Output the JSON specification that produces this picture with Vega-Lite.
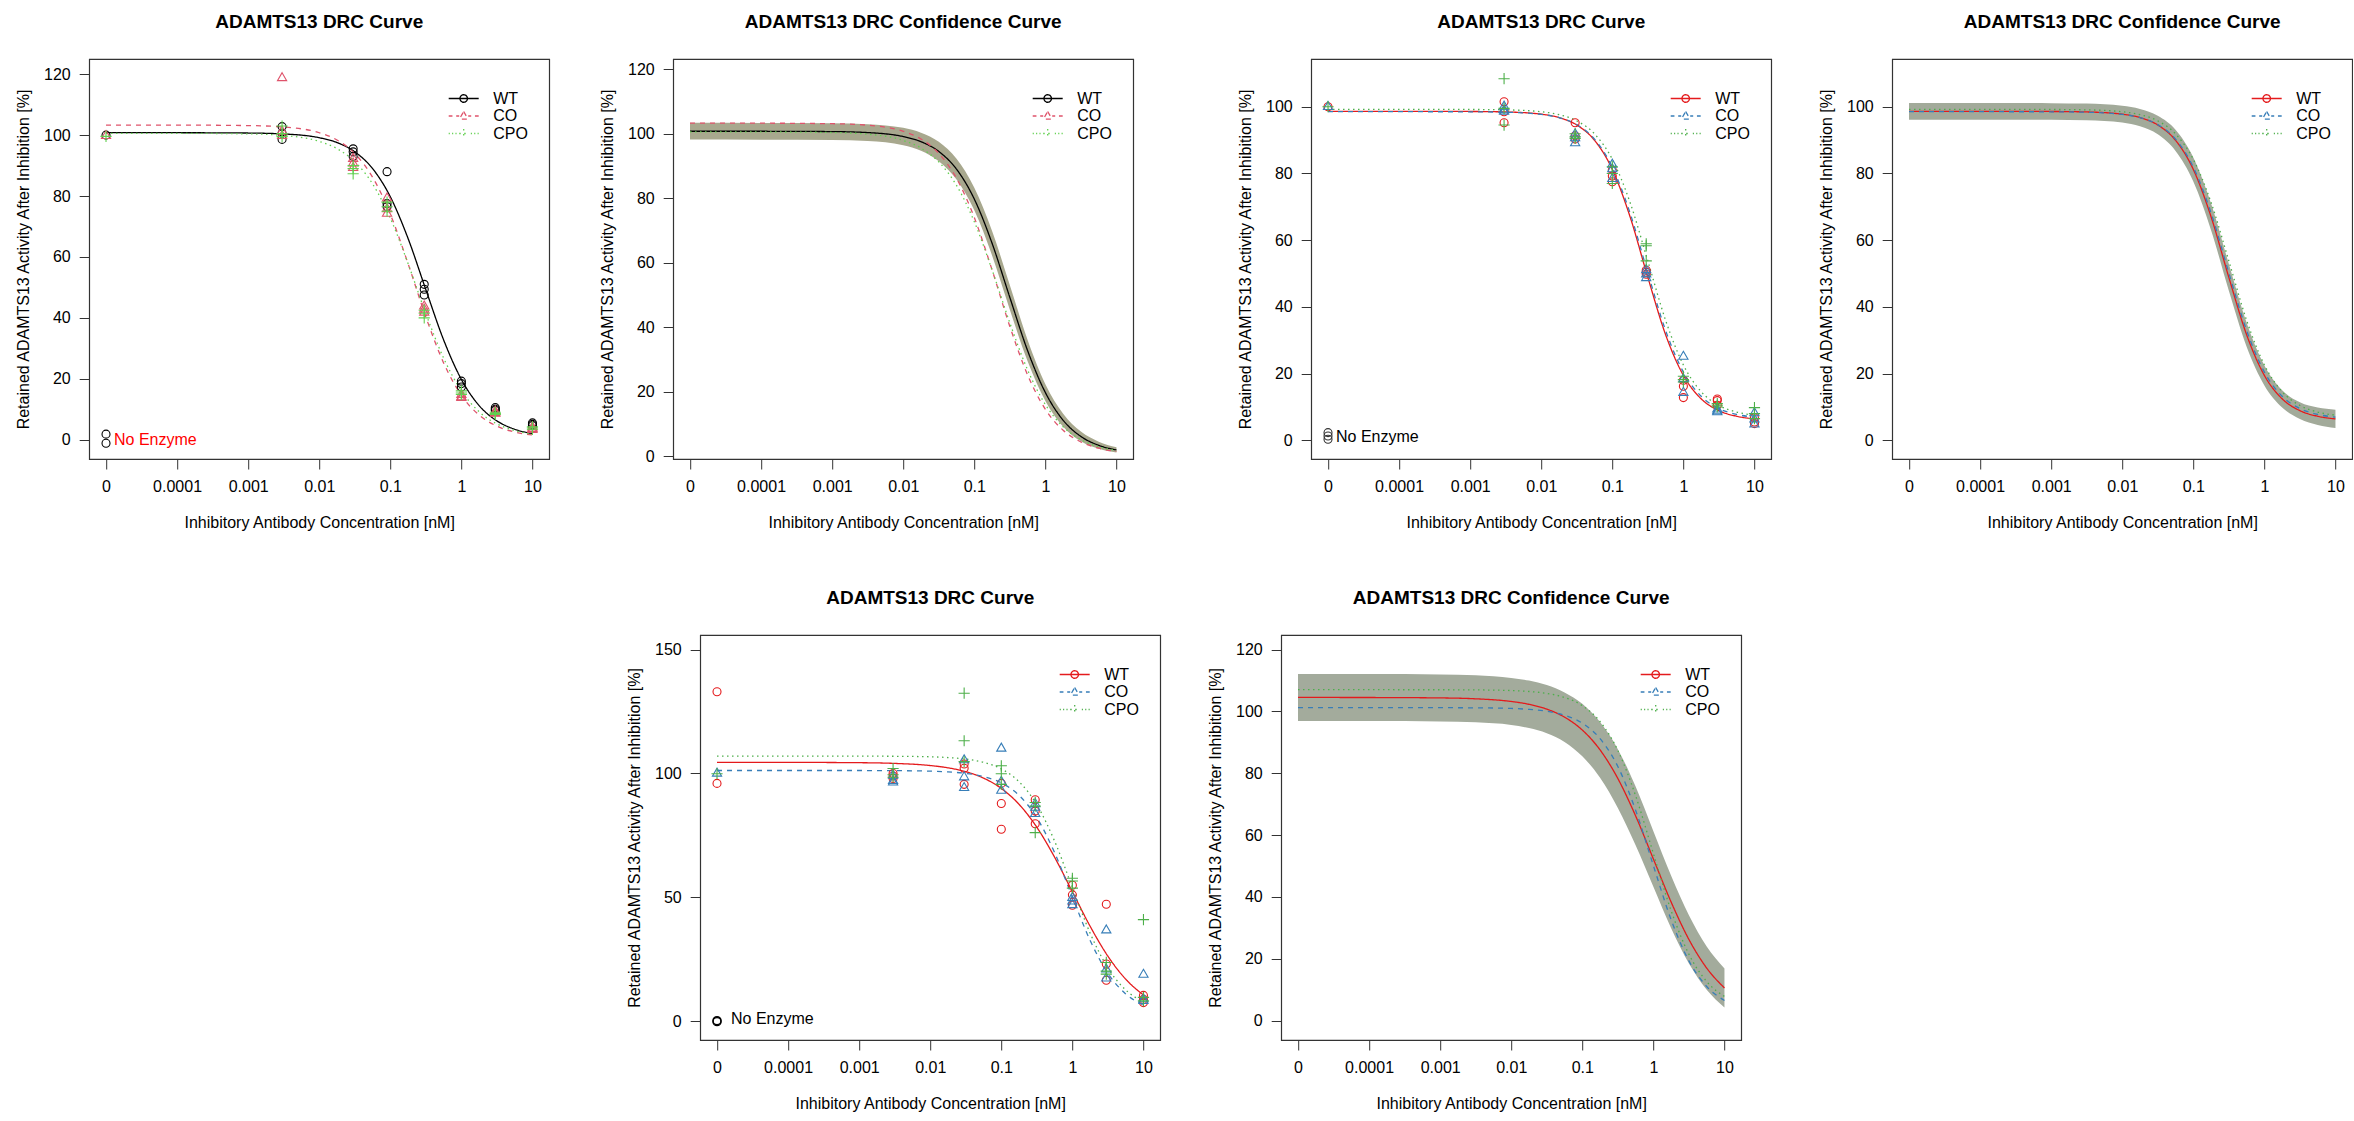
{
  "$schema": "https://vega.github.io/schema/vega-lite/v6.json",
  "background": "white",
  "padding": {"left": 14, "top": 12, "right": 0, "bottom": 0},
  "config": {
    "font": "Liberation Sans",
    "view": {"stroke": "#333", "strokeWidth": 1.2},
    "axis": {"grid": false, "domain": false, "tickColor": "#333", "tickSize": 10, "tickWidth": 1, "labelFont": "Liberation Sans", "labelFontSize": 16, "labelColor": "#000", "labelPadding": 9, "titleFont": "Liberation Sans", "titleFontSize": 16, "titleFontWeight": "normal", "titleColor": "#000", "labelOverlap": false, "labelFlush": false},
    "axisY": {"labelAngle": 0, "titlePadding": 12},
    "axisX": {"titlePadding": 20},
    "title": {"font": "Liberation Sans", "fontSize": 19, "fontWeight": "bold", "color": "#000", "offset": 27, "anchor": "middle"},
    "point": {"filled": false, "size": 64, "strokeWidth": 1.1, "opacity": 1},
    "legend": {"orient": "none", "legendX": 366, "legendY": 31, "title": null, "padding": 0, "symbolSize": 225, "symbolStrokeWidth": 1.3, "labelOffset": 21, "rowPadding": 0.5, "labelFont": "Liberation Sans", "labelFontSize": 16, "labelColor": "#000"}
  },
  "datasets": {
    "fit_a": [
      {"group": "WT", "dose": 0.00001, "activity": 100.8}, {"group": "WT", "dose": 0.0001, "activity": 100.79}, {"group": "WT", "dose": 0.001, "activity": 100.69}, {"group": "WT", "dose": 0.003162, "activity": 100.38}, {"group": "WT", "dose": 0.01, "activity": 99.15}, {"group": "WT", "dose": 0.01778, "activity": 97.56}, {"group": "WT", "dose": 0.03162, "activity": 94.53}, {"group": "WT", "dose": 0.05623, "activity": 89.03}, {"group": "WT", "dose": 0.1, "activity": 79.76}, {"group": "WT", "dose": 0.1778, "activity": 66.06}, {"group": "WT", "dose": 0.3162, "activity": 49.26}, {"group": "WT", "dose": 0.5623, "activity": 32.76}, {"group": "WT", "dose": 1, "activity": 19.76}, {"group": "WT", "dose": 1.778, "activity": 11.18}, {"group": "WT", "dose": 3.162, "activity": 6.15}, {"group": "WT", "dose": 5.623, "activity": 3.41}, {"group": "WT", "dose": 10, "activity": 1.98},
      {"group": "CO", "dose": 0.00001, "activity": 103.3}, {"group": "CO", "dose": 0.0001, "activity": 103.29}, {"group": "CO", "dose": 0.001, "activity": 103.14}, {"group": "CO", "dose": 0.003162, "activity": 102.66}, {"group": "CO", "dose": 0.01, "activity": 100.78}, {"group": "CO", "dose": 0.01778, "activity": 98.4}, {"group": "CO", "dose": 0.03162, "activity": 93.95}, {"group": "CO", "dose": 0.05623, "activity": 86.2}, {"group": "CO", "dose": 0.1, "activity": 74.03}, {"group": "CO", "dose": 0.1778, "activity": 57.8}, {"group": "CO", "dose": 0.3162, "activity": 40.27}, {"group": "CO", "dose": 0.5623, "activity": 25.2}, {"group": "CO", "dose": 1, "activity": 14.56}, {"group": "CO", "dose": 1.778, "activity": 8.06}, {"group": "CO", "dose": 3.162, "activity": 4.44}, {"group": "CO", "dose": 5.623, "activity": 2.51}, {"group": "CO", "dose": 10, "activity": 1.52},
      {"group": "CPO", "dose": 0.00001, "activity": 100.6}, {"group": "CPO", "dose": 0.0001, "activity": 100.59}, {"group": "CPO", "dose": 0.001, "activity": 100.41}, {"group": "CPO", "dose": 0.003162, "activity": 99.88}, {"group": "CPO", "dose": 0.01, "activity": 97.94}, {"group": "CPO", "dose": 0.01778, "activity": 95.57}, {"group": "CPO", "dose": 0.03162, "activity": 91.29}, {"group": "CPO", "dose": 0.05623, "activity": 84.0}, {"group": "CPO", "dose": 0.1, "activity": 72.75}, {"group": "CPO", "dose": 0.1778, "activity": 57.8}, {"group": "CPO", "dose": 0.3162, "activity": 41.37}, {"group": "CPO", "dose": 0.5623, "activity": 26.78}, {"group": "CPO", "dose": 1, "activity": 16.03}, {"group": "CPO", "dose": 1.778, "activity": 9.16}, {"group": "CPO", "dose": 3.162, "activity": 5.16}, {"group": "CPO", "dose": 5.623, "activity": 2.96}, {"group": "CPO", "dose": 10, "activity": 1.79}
    ],
    "band_a": [
      {"dose": 0.00001, "lower": 98.2, "upper": 103.4}, {"dose": 0.0001, "lower": 98.19, "upper": 103.39}, {"dose": 0.001, "lower": 98.09, "upper": 103.29}, {"dose": 0.003162, "lower": 97.78, "upper": 102.98}, {"dose": 0.01, "lower": 96.45, "upper": 101.85}, {"dose": 0.01778, "lower": 94.76, "upper": 100.36}, {"dose": 0.03162, "lower": 91.53, "upper": 97.53}, {"dose": 0.05623, "lower": 85.83, "upper": 92.23}, {"dose": 0.1, "lower": 76.26, "upper": 83.26}, {"dose": 0.1778, "lower": 62.26, "upper": 69.86}, {"dose": 0.3162, "lower": 45.46, "upper": 53.06}, {"dose": 0.5623, "lower": 29.46, "upper": 36.06}, {"dose": 1, "lower": 17.16, "upper": 22.36}, {"dose": 1.778, "lower": 9.18, "upper": 13.18}, {"dose": 3.162, "lower": 4.65, "upper": 7.65}, {"dose": 5.623, "lower": 2.31, "upper": 4.51}, {"dose": 10, "lower": 1.18, "upper": 2.78}
    ],
    "obs_a": [
      {"group": "WT", "dose": 0.00001, "activity": 100}, {"group": "CO", "dose": 0.00001, "activity": 100}, {"group": "CPO", "dose": 0.00001, "activity": 99.6},
      {"group": "WT", "dose": 0.003, "activity": 102.8}, {"group": "WT", "dose": 0.003, "activity": 100.6}, {"group": "WT", "dose": 0.003, "activity": 98.6},
      {"group": "CO", "dose": 0.003, "activity": 119}, {"group": "CO", "dose": 0.003, "activity": 101.5}, {"group": "CO", "dose": 0.003, "activity": 100},
      {"group": "CPO", "dose": 0.003, "activity": 103}, {"group": "CPO", "dose": 0.003, "activity": 100.5}, {"group": "CPO", "dose": 0.003, "activity": 99.5},
      {"group": "WT", "dose": 0.03, "activity": 95.5}, {"group": "WT", "dose": 0.03, "activity": 94.5}, {"group": "WT", "dose": 0.03, "activity": 93},
      {"group": "CO", "dose": 0.03, "activity": 92.5}, {"group": "CO", "dose": 0.03, "activity": 91}, {"group": "CO", "dose": 0.03, "activity": 89.5},
      {"group": "CPO", "dose": 0.03, "activity": 90}, {"group": "CPO", "dose": 0.03, "activity": 89}, {"group": "CPO", "dose": 0.03, "activity": 87.3},
      {"group": "WT", "dose": 0.09, "activity": 88}, {"group": "WT", "dose": 0.09, "activity": 77.5}, {"group": "WT", "dose": 0.09, "activity": 76.5},
      {"group": "CO", "dose": 0.09, "activity": 79.5}, {"group": "CO", "dose": 0.09, "activity": 76}, {"group": "CO", "dose": 0.09, "activity": 74.5},
      {"group": "CPO", "dose": 0.09, "activity": 78}, {"group": "CPO", "dose": 0.09, "activity": 76.5}, {"group": "CPO", "dose": 0.09, "activity": 75},
      {"group": "WT", "dose": 0.3, "activity": 51}, {"group": "WT", "dose": 0.3, "activity": 49.4}, {"group": "WT", "dose": 0.3, "activity": 47.5},
      {"group": "CO", "dose": 0.3, "activity": 44}, {"group": "CO", "dose": 0.3, "activity": 43}, {"group": "CO", "dose": 0.3, "activity": 42},
      {"group": "CPO", "dose": 0.3, "activity": 42.5}, {"group": "CPO", "dose": 0.3, "activity": 41.5}, {"group": "CPO", "dose": 0.3, "activity": 40},
      {"group": "WT", "dose": 1, "activity": 19.2}, {"group": "WT", "dose": 1, "activity": 18.4}, {"group": "WT", "dose": 1, "activity": 17.3},
      {"group": "CO", "dose": 1, "activity": 15}, {"group": "CO", "dose": 1, "activity": 14.2}, {"group": "CO", "dose": 1, "activity": 14},
      {"group": "CPO", "dose": 1, "activity": 16}, {"group": "CPO", "dose": 1, "activity": 15.3}, {"group": "CPO", "dose": 1, "activity": 14.8},
      {"group": "WT", "dose": 3, "activity": 10.5}, {"group": "WT", "dose": 3, "activity": 10}, {"group": "WT", "dose": 3, "activity": 9.6},
      {"group": "CO", "dose": 3, "activity": 9.5}, {"group": "CO", "dose": 3, "activity": 9}, {"group": "CO", "dose": 3, "activity": 8.8},
      {"group": "CPO", "dose": 3, "activity": 9}, {"group": "CPO", "dose": 3, "activity": 8.6}, {"group": "CPO", "dose": 3, "activity": 8.3},
      {"group": "WT", "dose": 10, "activity": 5.5}, {"group": "WT", "dose": 10, "activity": 5}, {"group": "WT", "dose": 10, "activity": 4.6},
      {"group": "CO", "dose": 10, "activity": 4.3}, {"group": "CO", "dose": 10, "activity": 3.8}, {"group": "CO", "dose": 10, "activity": 3.5},
      {"group": "CPO", "dose": 10, "activity": 4.2}, {"group": "CPO", "dose": 10, "activity": 3.8}, {"group": "CPO", "dose": 10, "activity": 3.4}
    ],
    "blank_a": [{"dose": 0.00001, "activity": 1.8}, {"dose": 0.00001, "activity": -1.2}],
    "fit_b": [
      {"group": "WT", "dose": 0.00001, "activity": 98.6}, {"group": "WT", "dose": 0.0001, "activity": 98.6}, {"group": "WT", "dose": 0.001, "activity": 98.57}, {"group": "WT", "dose": 0.003162, "activity": 98.43}, {"group": "WT", "dose": 0.01, "activity": 97.76}, {"group": "WT", "dose": 0.01778, "activity": 96.73}, {"group": "WT", "dose": 0.03162, "activity": 94.52}, {"group": "WT", "dose": 0.05623, "activity": 89.93}, {"group": "WT", "dose": 0.1, "activity": 81.2}, {"group": "WT", "dose": 0.1778, "activity": 67.0}, {"group": "WT", "dose": 0.3162, "activity": 48.84}, {"group": "WT", "dose": 0.5623, "activity": 31.66}, {"group": "WT", "dose": 1, "activity": 19.46}, {"group": "WT", "dose": 1.778, "activity": 12.44}, {"group": "WT", "dose": 3.162, "activity": 8.89}, {"group": "WT", "dose": 5.623, "activity": 7.21}, {"group": "WT", "dose": 10, "activity": 6.43},
      {"group": "CO", "dose": 0.00001, "activity": 98.5}, {"group": "CO", "dose": 0.0001, "activity": 98.5}, {"group": "CO", "dose": 0.001, "activity": 98.47}, {"group": "CO", "dose": 0.003162, "activity": 98.34}, {"group": "CO", "dose": 0.01, "activity": 97.7}, {"group": "CO", "dose": 0.01778, "activity": 96.73}, {"group": "CO", "dose": 0.03162, "activity": 94.63}, {"group": "CO", "dose": 0.05623, "activity": 90.26}, {"group": "CO", "dose": 0.1, "activity": 81.89}, {"group": "CO", "dose": 0.1778, "activity": 68.1}, {"group": "CO", "dose": 0.3162, "activity": 50.16}, {"group": "CO", "dose": 0.5623, "activity": 32.9}, {"group": "CO", "dose": 1, "activity": 20.44}, {"group": "CO", "dose": 1.778, "activity": 13.2}, {"group": "CO", "dose": 3.162, "activity": 9.52}, {"group": "CO", "dose": 5.623, "activity": 7.76}, {"group": "CO", "dose": 10, "activity": 6.96},
      {"group": "CPO", "dose": 0.00001, "activity": 99.2}, {"group": "CPO", "dose": 0.0001, "activity": 99.2}, {"group": "CPO", "dose": 0.001, "activity": 99.17}, {"group": "CPO", "dose": 0.003162, "activity": 99.06}, {"group": "CPO", "dose": 0.01, "activity": 98.49}, {"group": "CPO", "dose": 0.01778, "activity": 97.64}, {"group": "CPO", "dose": 0.03162, "activity": 95.77}, {"group": "CPO", "dose": 0.05623, "activity": 91.86}, {"group": "CPO", "dose": 0.1, "activity": 84.24}, {"group": "CPO", "dose": 0.1778, "activity": 71.3}, {"group": "CPO", "dose": 0.3162, "activity": 53.74}, {"group": "CPO", "dose": 0.5623, "activity": 35.97}, {"group": "CPO", "dose": 1, "activity": 22.59}, {"group": "CPO", "dose": 1.778, "activity": 14.59}, {"group": "CPO", "dose": 3.162, "activity": 10.45}, {"group": "CPO", "dose": 5.623, "activity": 8.47}, {"group": "CPO", "dose": 10, "activity": 7.55}
    ],
    "band_b": [
      {"dose": 0.00001, "lower": 96.1, "upper": 101.1}, {"dose": 0.0001, "lower": 96.1, "upper": 101.1}, {"dose": 0.001, "lower": 96.07, "upper": 101.07}, {"dose": 0.003162, "lower": 95.93, "upper": 100.93}, {"dose": 0.01, "lower": 95.26, "upper": 100.26}, {"dose": 0.01778, "lower": 94.13, "upper": 99.33}, {"dose": 0.03162, "lower": 91.72, "upper": 97.32}, {"dose": 0.05623, "lower": 86.73, "upper": 93.13}, {"dose": 0.1, "lower": 77.6, "upper": 84.8}, {"dose": 0.1778, "lower": 63.0, "upper": 71.0}, {"dose": 0.3162, "lower": 44.84, "upper": 52.84}, {"dose": 0.5623, "lower": 28.06, "upper": 35.26}, {"dose": 1, "lower": 16.46, "upper": 22.46}, {"dose": 1.778, "lower": 9.84, "upper": 15.04}, {"dose": 3.162, "lower": 6.39, "upper": 11.39}, {"dose": 5.623, "lower": 4.61, "upper": 9.81}, {"dose": 10, "lower": 3.68, "upper": 9.18}
    ],
    "obs_b": [
      {"group": "WT", "dose": 0.00001, "activity": 100}, {"group": "CO", "dose": 0.00001, "activity": 100.2}, {"group": "CPO", "dose": 0.00001, "activity": 100},
      {"group": "WT", "dose": 0.003, "activity": 101.5}, {"group": "WT", "dose": 0.003, "activity": 98.5}, {"group": "WT", "dose": 0.003, "activity": 95.2},
      {"group": "CO", "dose": 0.003, "activity": 100.3}, {"group": "CO", "dose": 0.003, "activity": 99.2}, {"group": "CO", "dose": 0.003, "activity": 98.8},
      {"group": "CPO", "dose": 0.003, "activity": 108.4}, {"group": "CPO", "dose": 0.003, "activity": 99.5}, {"group": "CPO", "dose": 0.003, "activity": 94.5},
      {"group": "WT", "dose": 0.03, "activity": 95.2}, {"group": "WT", "dose": 0.03, "activity": 91.3}, {"group": "WT", "dose": 0.03, "activity": 90.3},
      {"group": "CO", "dose": 0.03, "activity": 92}, {"group": "CO", "dose": 0.03, "activity": 90.8}, {"group": "CO", "dose": 0.03, "activity": 89.3},
      {"group": "CPO", "dose": 0.03, "activity": 91.9}, {"group": "CPO", "dose": 0.03, "activity": 91}, {"group": "CPO", "dose": 0.03, "activity": 90.5},
      {"group": "WT", "dose": 0.1, "activity": 81}, {"group": "WT", "dose": 0.1, "activity": 79.2}, {"group": "WT", "dose": 0.1, "activity": 77.5},
      {"group": "CO", "dose": 0.1, "activity": 82.9}, {"group": "CO", "dose": 0.1, "activity": 81.5}, {"group": "CO", "dose": 0.1, "activity": 78.6},
      {"group": "CPO", "dose": 0.1, "activity": 82}, {"group": "CPO", "dose": 0.1, "activity": 80}, {"group": "CPO", "dose": 0.1, "activity": 77},
      {"group": "WT", "dose": 0.3, "activity": 51}, {"group": "WT", "dose": 0.3, "activity": 50.4}, {"group": "WT", "dose": 0.3, "activity": 49.8},
      {"group": "CO", "dose": 0.3, "activity": 51.3}, {"group": "CO", "dose": 0.3, "activity": 50}, {"group": "CO", "dose": 0.3, "activity": 48.9},
      {"group": "CPO", "dose": 0.3, "activity": 58.9}, {"group": "CPO", "dose": 0.3, "activity": 58.3}, {"group": "CPO", "dose": 0.3, "activity": 53.8},
      {"group": "WT", "dose": 1, "activity": 18}, {"group": "WT", "dose": 1, "activity": 16.2}, {"group": "WT", "dose": 1, "activity": 12.8},
      {"group": "CO", "dose": 1, "activity": 25.3}, {"group": "CO", "dose": 1, "activity": 18.6}, {"group": "CO", "dose": 1, "activity": 14.5},
      {"group": "CPO", "dose": 1, "activity": 19.2}, {"group": "CPO", "dose": 1, "activity": 18.2}, {"group": "CPO", "dose": 1, "activity": 17.5},
      {"group": "WT", "dose": 3, "activity": 12.4}, {"group": "WT", "dose": 3, "activity": 11.9}, {"group": "WT", "dose": 3, "activity": 10.5},
      {"group": "CO", "dose": 3, "activity": 9.5}, {"group": "CO", "dose": 3, "activity": 9}, {"group": "CO", "dose": 3, "activity": 8.7},
      {"group": "CPO", "dose": 3, "activity": 11}, {"group": "CPO", "dose": 3, "activity": 10.5}, {"group": "CPO", "dose": 3, "activity": 10},
      {"group": "WT", "dose": 10, "activity": 6.8}, {"group": "WT", "dose": 10, "activity": 5.5}, {"group": "WT", "dose": 10, "activity": 5},
      {"group": "CO", "dose": 10, "activity": 8.4}, {"group": "CO", "dose": 10, "activity": 6.5}, {"group": "CO", "dose": 10, "activity": 5},
      {"group": "CPO", "dose": 10, "activity": 9.8}, {"group": "CPO", "dose": 10, "activity": 8}, {"group": "CPO", "dose": 10, "activity": 6.5}
    ],
    "blank_b": [{"dose": 0.00001, "activity": 0.3}, {"dose": 0.00001, "activity": 1.3}, {"dose": 0.00001, "activity": 2.3}],
    "fit_c": [
      {"group": "WT", "dose": 0.00001, "activity": 104.5}, {"group": "WT", "dose": 0.0001, "activity": 104.48}, {"group": "WT", "dose": 0.001, "activity": 104.35}, {"group": "WT", "dose": 0.003162, "activity": 104.06}, {"group": "WT", "dose": 0.01, "activity": 103.2}, {"group": "WT", "dose": 0.01778, "activity": 102.28}, {"group": "WT", "dose": 0.03162, "activity": 100.72}, {"group": "WT", "dose": 0.05623, "activity": 98.13}, {"group": "WT", "dose": 0.1, "activity": 93.96}, {"group": "WT", "dose": 0.1778, "activity": 87.53}, {"group": "WT", "dose": 0.3162, "activity": 78.28}, {"group": "WT", "dose": 0.5623, "activity": 66.19}, {"group": "WT", "dose": 1, "activity": 52.25}, {"group": "WT", "dose": 1.778, "activity": 38.31}, {"group": "WT", "dose": 3.162, "activity": 26.22}, {"group": "WT", "dose": 5.623, "activity": 16.97}, {"group": "WT", "dose": 10, "activity": 10.54},
      {"group": "CO", "dose": 0.00001, "activity": 101.2}, {"group": "CO", "dose": 0.0001, "activity": 101.2}, {"group": "CO", "dose": 0.001, "activity": 101.19}, {"group": "CO", "dose": 0.003162, "activity": 101.14}, {"group": "CO", "dose": 0.01, "activity": 100.94}, {"group": "CO", "dose": 0.01778, "activity": 100.64}, {"group": "CO", "dose": 0.03162, "activity": 100.03}, {"group": "CO", "dose": 0.05623, "activity": 98.76}, {"group": "CO", "dose": 0.1, "activity": 96.19}, {"group": "CO", "dose": 0.1778, "activity": 91.17}, {"group": "CO", "dose": 0.3162, "activity": 82.15}, {"group": "CO", "dose": 0.5623, "activity": 68.03}, {"group": "CO", "dose": 1, "activity": 50.11}, {"group": "CO", "dose": 1.778, "activity": 32.58}, {"group": "CO", "dose": 3.162, "activity": 19.28}, {"group": "CO", "dose": 5.623, "activity": 11.0}, {"group": "CO", "dose": 10, "activity": 6.47},
      {"group": "CPO", "dose": 0.00001, "activity": 107}, {"group": "CPO", "dose": 0.0001, "activity": 107}, {"group": "CPO", "dose": 0.001, "activity": 106.99}, {"group": "CPO", "dose": 0.003162, "activity": 106.94}, {"group": "CPO", "dose": 0.01, "activity": 106.73}, {"group": "CPO", "dose": 0.01778, "activity": 106.43}, {"group": "CPO", "dose": 0.03162, "activity": 105.8}, {"group": "CPO", "dose": 0.05623, "activity": 104.5}, {"group": "CPO", "dose": 0.1, "activity": 101.85}, {"group": "CPO", "dose": 0.1778, "activity": 96.68}, {"group": "CPO", "dose": 0.3162, "activity": 87.36}, {"group": "CPO", "dose": 0.5623, "activity": 72.7}, {"group": "CPO", "dose": 1, "activity": 53.99}, {"group": "CPO", "dose": 1.778, "activity": 35.52}, {"group": "CPO", "dose": 3.162, "activity": 21.43}, {"group": "CPO", "dose": 5.623, "activity": 12.62}, {"group": "CPO", "dose": 10, "activity": 7.78}
    ],
    "band_c": [
      {"dose": 0.00001, "lower": 96.9, "upper": 112.1}, {"dose": 0.0001, "lower": 96.88, "upper": 112.08}, {"dose": 0.001, "lower": 96.75, "upper": 111.95}, {"dose": 0.003162, "lower": 96.46, "upper": 111.66}, {"dose": 0.01, "lower": 95.6, "upper": 110.8}, {"dose": 0.01778, "lower": 94.58, "upper": 109.98}, {"dose": 0.03162, "lower": 92.92, "upper": 108.52}, {"dose": 0.05623, "lower": 90.13, "upper": 106.13}, {"dose": 0.1, "lower": 85.46, "upper": 102.46}, {"dose": 0.1778, "lower": 78.53, "upper": 96.53}, {"dose": 0.3162, "lower": 68.78, "upper": 87.78}, {"dose": 0.5623, "lower": 56.69, "upper": 75.69}, {"dose": 1, "lower": 43.25, "upper": 61.25}, {"dose": 1.778, "lower": 29.81, "upper": 46.81}, {"dose": 3.162, "lower": 18.42, "upper": 34.02}, {"dose": 5.623, "lower": 9.97, "upper": 23.97}, {"dose": 10, "lower": 4.24, "upper": 16.84}
    ],
    "obs_c": [
      {"group": "WT", "dose": 0.00001, "activity": 133}, {"group": "WT", "dose": 0.00001, "activity": 96}, {"group": "CO", "dose": 0.00001, "activity": 100.3}, {"group": "CPO", "dose": 0.00001, "activity": 99.9},
      {"group": "WT", "dose": 0.003, "activity": 100}, {"group": "WT", "dose": 0.003, "activity": 99}, {"group": "WT", "dose": 0.003, "activity": 98},
      {"group": "CO", "dose": 0.003, "activity": 99.5}, {"group": "CO", "dose": 0.003, "activity": 97.3}, {"group": "CO", "dose": 0.003, "activity": 96.7},
      {"group": "CPO", "dose": 0.003, "activity": 102}, {"group": "CPO", "dose": 0.003, "activity": 99.5}, {"group": "CPO", "dose": 0.003, "activity": 98.5},
      {"group": "WT", "dose": 0.03, "activity": 103.8}, {"group": "WT", "dose": 0.03, "activity": 102.1}, {"group": "WT", "dose": 0.03, "activity": 95.6},
      {"group": "CO", "dose": 0.03, "activity": 105.7}, {"group": "CO", "dose": 0.03, "activity": 98.8}, {"group": "CO", "dose": 0.03, "activity": 94.5},
      {"group": "CPO", "dose": 0.03, "activity": 132.4}, {"group": "CPO", "dose": 0.03, "activity": 113.2}, {"group": "CPO", "dose": 0.03, "activity": 104.8},
      {"group": "WT", "dose": 0.1, "activity": 96}, {"group": "WT", "dose": 0.1, "activity": 87.9}, {"group": "WT", "dose": 0.1, "activity": 77.5},
      {"group": "CO", "dose": 0.1, "activity": 110.4}, {"group": "CO", "dose": 0.1, "activity": 97}, {"group": "CO", "dose": 0.1, "activity": 93.4},
      {"group": "CPO", "dose": 0.1, "activity": 103.1}, {"group": "CPO", "dose": 0.1, "activity": 99.9}, {"group": "CPO", "dose": 0.1, "activity": 95.6},
      {"group": "WT", "dose": 0.3, "activity": 89.4}, {"group": "WT", "dose": 0.3, "activity": 84.8}, {"group": "WT", "dose": 0.3, "activity": 79.7},
      {"group": "CO", "dose": 0.3, "activity": 88}, {"group": "CO", "dose": 0.3, "activity": 86.5}, {"group": "CO", "dose": 0.3, "activity": 84},
      {"group": "CPO", "dose": 0.3, "activity": 88.3}, {"group": "CPO", "dose": 0.3, "activity": 86.8}, {"group": "CPO", "dose": 0.3, "activity": 76.1},
      {"group": "WT", "dose": 1, "activity": 54.9}, {"group": "WT", "dose": 1, "activity": 51}, {"group": "WT", "dose": 1, "activity": 46.8},
      {"group": "CO", "dose": 1, "activity": 50.1}, {"group": "CO", "dose": 1, "activity": 48.7}, {"group": "CO", "dose": 1, "activity": 47.2},
      {"group": "CPO", "dose": 1, "activity": 57.7}, {"group": "CPO", "dose": 1, "activity": 56.6}, {"group": "CPO", "dose": 1, "activity": 53.7},
      {"group": "WT", "dose": 3, "activity": 47.2}, {"group": "WT", "dose": 3, "activity": 23.1}, {"group": "WT", "dose": 3, "activity": 16.5},
      {"group": "CO", "dose": 3, "activity": 37}, {"group": "CO", "dose": 3, "activity": 21.2}, {"group": "CO", "dose": 3, "activity": 17.6},
      {"group": "CPO", "dose": 3, "activity": 23.7}, {"group": "CPO", "dose": 3, "activity": 20.2}, {"group": "CPO", "dose": 3, "activity": 19},
      {"group": "WT", "dose": 10, "activity": 10.4}, {"group": "WT", "dose": 10, "activity": 8.8}, {"group": "WT", "dose": 10, "activity": 7.5},
      {"group": "CO", "dose": 10, "activity": 19.1}, {"group": "CO", "dose": 10, "activity": 9.2}, {"group": "CO", "dose": 10, "activity": 8.5},
      {"group": "CPO", "dose": 10, "activity": 41}, {"group": "CPO", "dose": 10, "activity": 9.6}, {"group": "CPO", "dose": 10, "activity": 8.2}
    ],
    "blank_c": [{"dose": 0.00001, "activity": 0.2}, {"dose": 0.00001, "activity": -0.2}]
  },
  "vconcat": [
    {
      "hconcat": [
        {
          "hconcat": [
            {
              "width": 460, "height": 400,
              "title": {"text": "ADAMTS13 DRC Curve"},
              "encoding": {
                "x": {"field": "dose", "type": "quantitative", "scale": {"type": "log", "domain": [0.0000058, 17.2], "nice": false}, "axis": {"values": [0.00001, 0.0001, 0.001, 0.01, 0.1, 1, 10], "labelExpr": "datum.value < 0.00005 ? '0' : datum.value < 0.0005 ? '0.0001' : datum.value < 0.005 ? '0.001' : datum.value < 0.05 ? '0.01' : datum.value < 0.5 ? '0.1' : datum.value < 5 ? '1' : '10'", "title": "Inhibitory Antibody Concentration [nM]"}},
                "y": {"field": "activity", "type": "quantitative", "scale": {"domain": [-6.36, 125], "nice": false, "zero": false}, "axis": {"values": [0, 20, 40, 60, 80, 100, 120], "title": "Retained ADAMTS13 Activity After Inhibition [%]"}},
                "color": {"field": "group", "type": "nominal", "scale": {"domain": ["WT", "CO", "CPO"], "range": ["#000000", "#DF536B", "#61D04F"]}, "legend": {"encode": {"symbols": {"update": {"fill": {"value": "transparent"}, "shape": {"signal": "datum.value === 'WT' ? 'M-2,0H2M0.5,0A0.5,0.5,0,1,1,-0.5,0A0.5,0.5,0,1,1,0.5,0' : datum.value === 'CO' ? 'M-2,0H-1.5M-1,0H-0.6M0.6,0H1M1.5,0H2M0,-0.6L0.58,0.42L-0.58,0.42Z' : 'M-2,0H-1.85M-1.55,0H-1.4M-1.1,0H-0.95M-0.6,0H0.6M0,-0.6V0.6M0.95,0H1.1M1.4,0H1.55M1.85,0H2'"}}}}}}
              },
              "layer": [
                {
                  "data": {"name": "fit_a"},
                  "mark": {"type": "line", "interpolate": "monotone", "strokeWidth": 1.3},
                  "encoding": {"strokeDash": {"field": "group", "type": "nominal", "scale": {"domain": ["WT", "CO", "CPO"], "range": [[1, 0], [5, 5], [1.5, 3.5]]}, "legend": null}}
                },
                {"data": {"name": "obs_a"}, "transform": [{"filter": "datum.group === 'WT'"}], "mark": {"type": "point", "shape": "circle"}},
                {"data": {"name": "obs_a"}, "transform": [{"filter": "datum.group === 'CO'"}], "mark": {"type": "point", "shape": "M0,-1.15L1.15,0.85L-1.15,0.85Z"}},
                {"data": {"name": "obs_a"}, "transform": [{"filter": "datum.group === 'CPO'"}], "mark": {"type": "point", "shape": "M-1.4,0H1.4M0,-1.4V1.4"}},
                {
                  "data": {"name": "blank_a"},
                  "mark": {"type": "point", "shape": "circle"},
                  "encoding": {"color": {"value": "#000000"}}
                },
                {
                  "data": {"values": [{"dose": 0.00001, "activity": 0, "note": "No Enzyme"}]},
                  "mark": {"type": "text", "align": "left", "baseline": "middle", "dx": 8, "fontSize": 16},
                  "encoding": {"text": {"field": "note"}, "color": {"value": "#FF0000"}}
                }
              ]
            },
            {
              "width": 460, "height": 400,
              "title": {"text": "ADAMTS13 DRC Confidence Curve"},
              "encoding": {
                "x": {"field": "dose", "type": "quantitative", "scale": {"type": "log", "domain": [0.0000058, 17.2], "nice": false}, "axis": {"values": [0.00001, 0.0001, 0.001, 0.01, 0.1, 1, 10], "labelExpr": "datum.value < 0.00005 ? '0' : datum.value < 0.0005 ? '0.0001' : datum.value < 0.005 ? '0.001' : datum.value < 0.05 ? '0.01' : datum.value < 0.5 ? '0.1' : datum.value < 5 ? '1' : '10'", "title": "Inhibitory Antibody Concentration [nM]"}},
                "y": {"field": "activity", "type": "quantitative", "scale": {"domain": [-0.84, 123.2], "nice": false, "zero": false}, "axis": {"values": [0, 20, 40, 60, 80, 100, 120], "title": "Retained ADAMTS13 Activity After Inhibition [%]"}}
              },
              "layer": [
                {
                  "data": {"name": "band_a"},
                  "mark": {"type": "area", "color": "#A8A88E", "opacity": 1, "interpolate": "monotone"},
                  "encoding": {
                    "y": {"field": "lower", "type": "quantitative", "scale": {"domain": [-0.84, 123.2], "nice": false, "zero": false}, "axis": {"values": [0, 20, 40, 60, 80, 100, 120], "title": "Retained ADAMTS13 Activity After Inhibition [%]"}},
                    "y2": {"field": "upper"}
                  }
                },
                {
                  "data": {"name": "fit_a"},
                  "mark": {"type": "line", "interpolate": "monotone", "strokeWidth": 1.3},
                  "encoding": {
                    "color": {"field": "group", "type": "nominal", "scale": {"domain": ["WT", "CO", "CPO"], "range": ["#000000", "#DF536B", "#61D04F"]}, "legend": {"encode": {"symbols": {"update": {"fill": {"value": "transparent"}, "shape": {"signal": "datum.value === 'WT' ? 'M-2,0H2M0.5,0A0.5,0.5,0,1,1,-0.5,0A0.5,0.5,0,1,1,0.5,0' : datum.value === 'CO' ? 'M-2,0H-1.5M-1,0H-0.6M0.6,0H1M1.5,0H2M0,-0.6L0.58,0.42L-0.58,0.42Z' : 'M-2,0H-1.85M-1.55,0H-1.4M-1.1,0H-0.95M-0.6,0H0.6M0,-0.6V0.6M0.95,0H1.1M1.4,0H1.55M1.85,0H2'"}}}}}},
                    "strokeDash": {"field": "group", "type": "nominal", "scale": {"domain": ["WT", "CO", "CPO"], "range": [[1, 0], [5, 5], [1.5, 3.5]]}, "legend": null}
                  }
                }
              ]
            }
          ],
          "spacing": 48,
          "resolve": {"scale": {"x": "independent", "y": "independent", "color": "independent", "strokeDash": "independent"}, "legend": {"color": "independent"}}
        },
        {
          "hconcat": [
            {
              "width": 460, "height": 400,
              "title": {"text": "ADAMTS13 DRC Curve"},
              "encoding": {
                "x": {"field": "dose", "type": "quantitative", "scale": {"type": "log", "domain": [0.0000058, 17.2], "nice": false}, "axis": {"values": [0.00001, 0.0001, 0.001, 0.01, 0.1, 1, 10], "labelExpr": "datum.value < 0.00005 ? '0' : datum.value < 0.0005 ? '0.0001' : datum.value < 0.005 ? '0.001' : datum.value < 0.05 ? '0.01' : datum.value < 0.5 ? '0.1' : datum.value < 5 ? '1' : '10'", "title": "Inhibitory Antibody Concentration [nM]"}},
                "y": {"field": "activity", "type": "quantitative", "scale": {"domain": [-5.6, 114.3], "nice": false, "zero": false}, "axis": {"values": [0, 20, 40, 60, 80, 100], "title": "Retained ADAMTS13 Activity After Inhibition [%]"}},
                "color": {"field": "group", "type": "nominal", "scale": {"domain": ["WT", "CO", "CPO"], "range": ["#E41A1C", "#377EB8", "#4DAF4A"]}, "legend": {"encode": {"symbols": {"update": {"fill": {"value": "transparent"}, "shape": {"signal": "datum.value === 'WT' ? 'M-2,0H2M0.5,0A0.5,0.5,0,1,1,-0.5,0A0.5,0.5,0,1,1,0.5,0' : datum.value === 'CO' ? 'M-2,0H-1.5M-1,0H-0.6M0.6,0H1M1.5,0H2M0,-0.6L0.58,0.42L-0.58,0.42Z' : 'M-2,0H-1.85M-1.55,0H-1.4M-1.1,0H-0.95M-0.6,0H0.6M0,-0.6V0.6M0.95,0H1.1M1.4,0H1.55M1.85,0H2'"}}}}}}
              },
              "layer": [
                {
                  "data": {"name": "fit_b"},
                  "mark": {"type": "line", "interpolate": "monotone", "strokeWidth": 1.3},
                  "encoding": {"strokeDash": {"field": "group", "type": "nominal", "scale": {"domain": ["WT", "CO", "CPO"], "range": [[1, 0], [5, 5], [1.5, 3.5]]}, "legend": null}}
                },
                {"data": {"name": "obs_b"}, "transform": [{"filter": "datum.group === 'WT'"}], "mark": {"type": "point", "shape": "circle"}},
                {"data": {"name": "obs_b"}, "transform": [{"filter": "datum.group === 'CO'"}], "mark": {"type": "point", "shape": "M0,-1.15L1.15,0.85L-1.15,0.85Z"}},
                {"data": {"name": "obs_b"}, "transform": [{"filter": "datum.group === 'CPO'"}], "mark": {"type": "point", "shape": "M-1.4,0H1.4M0,-1.4V1.4"}},
                {
                  "data": {"name": "blank_b"},
                  "mark": {"type": "point", "shape": "circle"},
                  "encoding": {"color": {"value": "#333333"}}
                },
                {
                  "data": {"values": [{"dose": 0.00001, "activity": 0.9, "note": "No Enzyme"}]},
                  "mark": {"type": "text", "align": "left", "baseline": "middle", "dx": 8, "fontSize": 16},
                  "encoding": {"text": {"field": "note"}, "color": {"value": "#000000"}}
                }
              ]
            },
            {
              "width": 460, "height": 400,
              "title": {"text": "ADAMTS13 DRC Confidence Curve"},
              "encoding": {
                "x": {"field": "dose", "type": "quantitative", "scale": {"type": "log", "domain": [0.0000058, 17.2], "nice": false}, "axis": {"values": [0.00001, 0.0001, 0.001, 0.01, 0.1, 1, 10], "labelExpr": "datum.value < 0.00005 ? '0' : datum.value < 0.0005 ? '0.0001' : datum.value < 0.005 ? '0.001' : datum.value < 0.05 ? '0.01' : datum.value < 0.5 ? '0.1' : datum.value < 5 ? '1' : '10'", "title": "Inhibitory Antibody Concentration [nM]"}},
                "y": {"field": "activity", "type": "quantitative", "scale": {"domain": [-5.6, 114.3], "nice": false, "zero": false}, "axis": {"values": [0, 20, 40, 60, 80, 100], "title": "Retained ADAMTS13 Activity After Inhibition [%]"}}
              },
              "layer": [
                {
                  "data": {"name": "band_b"},
                  "mark": {"type": "area", "color": "#A2AA9A", "opacity": 1, "interpolate": "monotone"},
                  "encoding": {
                    "y": {"field": "lower", "type": "quantitative", "scale": {"domain": [-5.6, 114.3], "nice": false, "zero": false}, "axis": {"values": [0, 20, 40, 60, 80, 100], "title": "Retained ADAMTS13 Activity After Inhibition [%]"}},
                    "y2": {"field": "upper"}
                  }
                },
                {
                  "data": {"name": "fit_b"},
                  "mark": {"type": "line", "interpolate": "monotone", "strokeWidth": 1.3},
                  "encoding": {
                    "color": {"field": "group", "type": "nominal", "scale": {"domain": ["WT", "CO", "CPO"], "range": ["#E41A1C", "#377EB8", "#4DAF4A"]}, "legend": {"encode": {"symbols": {"update": {"fill": {"value": "transparent"}, "shape": {"signal": "datum.value === 'WT' ? 'M-2,0H2M0.5,0A0.5,0.5,0,1,1,-0.5,0A0.5,0.5,0,1,1,0.5,0' : datum.value === 'CO' ? 'M-2,0H-1.5M-1,0H-0.6M0.6,0H1M1.5,0H2M0,-0.6L0.58,0.42L-0.58,0.42Z' : 'M-2,0H-1.85M-1.55,0H-1.4M-1.1,0H-0.95M-0.6,0H0.6M0,-0.6V0.6M0.95,0H1.1M1.4,0H1.55M1.85,0H2'"}}}}}},
                    "strokeDash": {"field": "group", "type": "nominal", "scale": {"domain": ["WT", "CO", "CPO"], "range": [[1, 0], [5, 5], [1.5, 3.5]]}, "legend": null}
                  }
                }
              ]
            }
          ],
          "spacing": 45,
          "resolve": {"scale": {"x": "independent", "y": "independent", "color": "independent", "strokeDash": "independent"}, "legend": {"color": "independent"}}
        }
      ],
      "spacing": 102,
      "resolve": {"scale": {"x": "independent", "y": "independent", "color": "independent", "strokeDash": "independent"}, "legend": {"color": "independent"}}
    },
    {
      "hconcat": [
        {
          "width": 460, "height": 405,
          "title": {"text": "ADAMTS13 DRC Curve"},
          "encoding": {
            "x": {"field": "dose", "type": "quantitative", "scale": {"type": "log", "domain": [0.0000058, 17.2], "nice": false}, "axis": {"values": [0.00001, 0.0001, 0.001, 0.01, 0.1, 1, 10], "labelExpr": "datum.value < 0.00005 ? '0' : datum.value < 0.0005 ? '0.0001' : datum.value < 0.005 ? '0.001' : datum.value < 0.05 ? '0.01' : datum.value < 0.5 ? '0.1' : datum.value < 5 ? '1' : '10'", "title": "Inhibitory Antibody Concentration [nM]"}},
            "y": {"field": "activity", "type": "quantitative", "scale": {"domain": [-7.6, 155.9], "nice": false, "zero": false}, "axis": {"values": [0, 50, 100, 150], "title": "Retained ADAMTS13 Activity After Inhibition [%]"}},
            "color": {"field": "group", "type": "nominal", "scale": {"domain": ["WT", "CO", "CPO"], "range": ["#E41A1C", "#377EB8", "#4DAF4A"]}, "legend": {"encode": {"symbols": {"update": {"fill": {"value": "transparent"}, "shape": {"signal": "datum.value === 'WT' ? 'M-2,0H2M0.5,0A0.5,0.5,0,1,1,-0.5,0A0.5,0.5,0,1,1,0.5,0' : datum.value === 'CO' ? 'M-2,0H-1.5M-1,0H-0.6M0.6,0H1M1.5,0H2M0,-0.6L0.58,0.42L-0.58,0.42Z' : 'M-2,0H-1.85M-1.55,0H-1.4M-1.1,0H-0.95M-0.6,0H0.6M0,-0.6V0.6M0.95,0H1.1M1.4,0H1.55M1.85,0H2'"}}}}}}
          },
          "layer": [
            {
              "data": {"name": "fit_c"},
              "mark": {"type": "line", "interpolate": "monotone", "strokeWidth": 1.3},
              "encoding": {"strokeDash": {"field": "group", "type": "nominal", "scale": {"domain": ["WT", "CO", "CPO"], "range": [[1, 0], [5, 5], [1.5, 3.5]]}, "legend": null}}
            },
            {"data": {"name": "obs_c"}, "transform": [{"filter": "datum.group === 'WT'"}], "mark": {"type": "point", "shape": "circle"}},
            {"data": {"name": "obs_c"}, "transform": [{"filter": "datum.group === 'CO'"}], "mark": {"type": "point", "shape": "M0,-1.15L1.15,0.85L-1.15,0.85Z"}},
            {"data": {"name": "obs_c"}, "transform": [{"filter": "datum.group === 'CPO'"}], "mark": {"type": "point", "shape": "M-1.4,0H1.4M0,-1.4V1.4"}},
            {
              "data": {"name": "blank_c"},
              "mark": {"type": "point", "shape": "circle", "strokeWidth": 1.4},
              "encoding": {"color": {"value": "#000000"}}
            },
            {
              "data": {"values": [{"dose": 0.00001, "activity": 1, "note": "No Enzyme"}]},
              "mark": {"type": "text", "align": "left", "baseline": "middle", "dx": 14, "fontSize": 16},
              "encoding": {"text": {"field": "note"}, "color": {"value": "#000000"}}
            }
          ]
        },
        {
          "width": 460, "height": 405,
          "title": {"text": "ADAMTS13 DRC Confidence Curve"},
          "encoding": {
            "x": {"field": "dose", "type": "quantitative", "scale": {"type": "log", "domain": [0.0000058, 17.2], "nice": false}, "axis": {"values": [0.00001, 0.0001, 0.001, 0.01, 0.1, 1, 10], "labelExpr": "datum.value < 0.00005 ? '0' : datum.value < 0.0005 ? '0.0001' : datum.value < 0.005 ? '0.001' : datum.value < 0.05 ? '0.01' : datum.value < 0.5 ? '0.1' : datum.value < 5 ? '1' : '10'", "title": "Inhibitory Antibody Concentration [nM]"}},
            "y": {"field": "activity", "type": "quantitative", "scale": {"domain": [-6.3, 124.7], "nice": false, "zero": false}, "axis": {"values": [0, 20, 40, 60, 80, 100, 120], "title": "Retained ADAMTS13 Activity After Inhibition [%]"}}
          },
          "layer": [
            {
              "data": {"name": "band_c"},
              "mark": {"type": "area", "color": "#A3AB9C", "opacity": 1, "interpolate": "monotone"},
              "encoding": {
                "y": {"field": "lower", "type": "quantitative", "scale": {"domain": [-6.3, 124.7], "nice": false, "zero": false}, "axis": {"values": [0, 20, 40, 60, 80, 100, 120], "title": "Retained ADAMTS13 Activity After Inhibition [%]"}},
                "y2": {"field": "upper"}
              }
            },
            {
              "data": {"name": "fit_c"},
              "mark": {"type": "line", "interpolate": "monotone", "strokeWidth": 1.3},
              "encoding": {
                "color": {"field": "group", "type": "nominal", "scale": {"domain": ["WT", "CO", "CPO"], "range": ["#E41A1C", "#377EB8", "#4DAF4A"]}, "legend": {"encode": {"symbols": {"update": {"fill": {"value": "transparent"}, "shape": {"signal": "datum.value === 'WT' ? 'M-2,0H2M0.5,0A0.5,0.5,0,1,1,-0.5,0A0.5,0.5,0,1,1,0.5,0' : datum.value === 'CO' ? 'M-2,0H-1.5M-1,0H-0.6M0.6,0H1M1.5,0H2M0,-0.6L0.58,0.42L-0.58,0.42Z' : 'M-2,0H-1.85M-1.55,0H-1.4M-1.1,0H-0.95M-0.6,0H0.6M0,-0.6V0.6M0.95,0H1.1M1.4,0H1.55M1.85,0H2'"}}}}}},
                "strokeDash": {"field": "group", "type": "nominal", "scale": {"domain": ["WT", "CO", "CPO"], "range": [[1, 0], [5, 5], [1.5, 3.5]]}, "legend": null}
              }
            }
          ]
        }
      ],
      "spacing": 45,
      "resolve": {"scale": {"x": "independent", "y": "independent", "color": "independent", "strokeDash": "independent"}, "legend": {"color": "independent"}}
    }
  ],
  "spacing": 57, "center": true,
  "resolve": {"scale": {"x": "independent", "y": "independent", "color": "independent", "strokeDash": "independent"}, "legend": {"color": "independent"}}
}
